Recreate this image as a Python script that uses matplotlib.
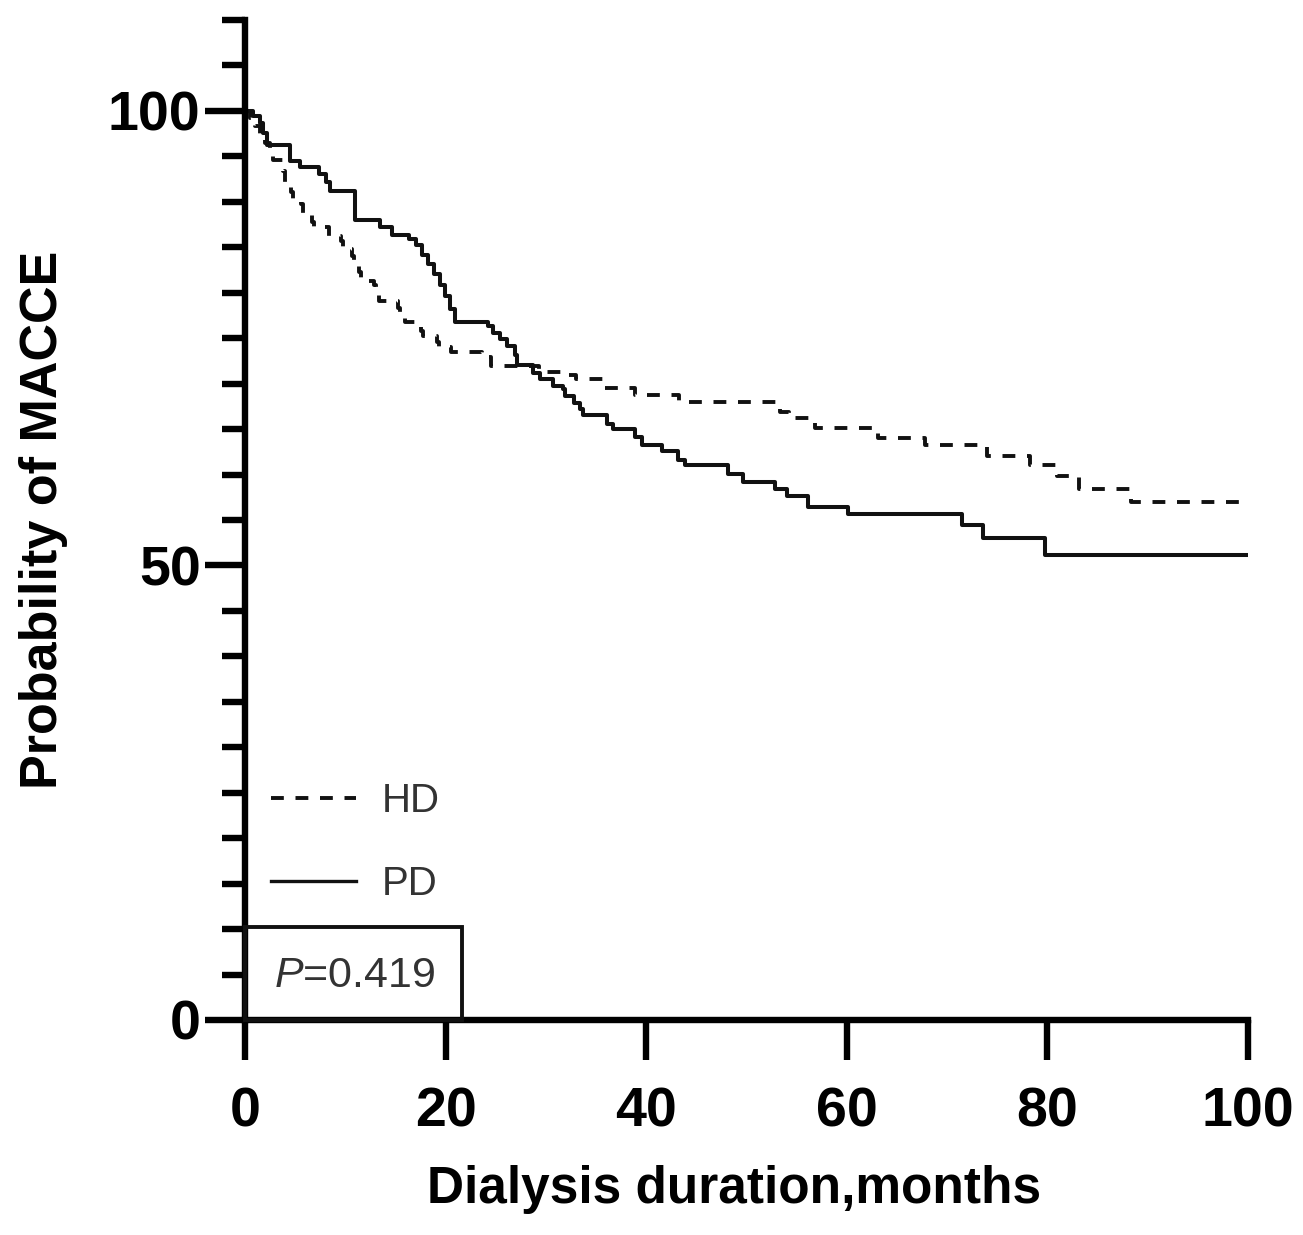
import matplotlib.pyplot as plt
from matplotlib.ticker import MultipleLocator
from matplotlib.patches import Rectangle

plt.rcParams['font.family'] = ['Liberation Sans', 'DejaVu Sans']
plt.rcParams['mathtext.fontset'] = 'custom'
plt.rcParams['mathtext.it'] = 'Liberation Sans:italic'
plt.rcParams['mathtext.rm'] = 'Liberation Sans'

# Kaplan-Meier steps (months, probability %)
hd_months = [0, 0.5, 1.0, 1.5, 2.0, 2.5, 2.8, 3.8, 4.0, 4.6, 4.8, 5.6, 5.8, 6.7, 6.9,
             8.4, 9.6, 9.8, 10.7, 10.9, 11.4, 11.6, 12.9, 13.1, 13.4, 15.3, 15.5, 16.0,
             17.5, 17.7, 19.1, 19.3, 20.5, 23.6, 24.5, 29.3, 31.5, 33.0, 35.8, 38.9, 43.3,
             53.3, 54.2, 56.8, 63.1, 67.8, 74.0, 78.3, 81.0, 83.2, 88.3, 100]
hd_prob = [100, 99.2, 98.3, 97.4, 96.5, 95.5, 94.6, 93.4, 92.0, 91.1, 90.3, 89.8, 88.7, 87.8, 87.2,
           86.2, 85.7, 84.8, 84.0, 83.4, 82.3, 81.3, 80.9, 80.2, 79.1, 78.3, 77.4, 76.8,
           75.8, 75.2, 74.6, 74.0, 73.5, 72.9, 71.9, 71.3, 71.0, 70.5, 69.5, 68.8, 68.0,
           66.9, 66.2, 65.1, 64.0, 63.2, 62.0, 61.0, 59.8, 58.4, 57.0, 57.0]

pd_months = [0, 0.8, 1.5, 1.8, 2.2, 4.5, 5.5, 7.4, 8.1, 8.5, 11.0, 13.5, 14.7,
             16.4, 17.0, 17.6, 18.2, 18.8, 19.4, 19.9, 20.4, 20.9, 24.2, 24.7, 25.4, 26.1,
             26.9, 27.1, 28.7, 29.4, 30.7, 31.7, 31.9, 32.8, 33.4, 33.7, 36.1, 36.7, 38.9,
             39.6, 41.6, 43.2, 43.9, 48.2, 49.7, 52.8, 54.0, 56.1, 60.1, 71.5, 73.6, 79.8, 100]
pd_prob = [100, 99.4, 98.7, 97.6, 96.2, 94.5, 93.8, 93.1, 92.2, 91.2, 88.0, 87.2, 86.4,
           85.9, 85.2, 84.2, 83.2, 82.1, 80.9, 79.6, 78.2, 76.8, 76.3, 75.6, 74.9, 74.1,
           73.2, 72.1, 71.2, 70.5, 69.7, 69.4, 68.6, 67.9, 67.2, 66.5, 65.6, 65.0, 64.1,
           63.2, 62.6, 61.6, 61.0, 60.1, 59.2, 58.4, 57.6, 56.4, 55.7, 54.4, 53.0, 51.2, 51.2]

group_labels = ['HD', 'PD']
p_text = r'$\it{P}$=0.419'

fig = plt.figure(figsize=(13.03, 12.35), dpi=100)
ax = fig.add_axes([245 / 1303, 215 / 1235, 1003 / 1303, 1000 / 1235])

ax.step(hd_months, hd_prob, where='post', color='#111111', lw=2.8,
        linestyle=(0, (3.3, 3.0)), label=group_labels[0])
ax.step(pd_months, pd_prob, where='post', color='#111111', lw=2.9,
        label=group_labels[1])

ax.set_xlim(0, 100)
ax.set_ylim(0, 110)
ax.set_xticks([0, 20, 40, 60, 80, 100])
ax.set_yticks([0, 50, 100])
ax.yaxis.set_minor_locator(MultipleLocator(5))

for side in ['top', 'right']:
    ax.spines[side].set_visible(False)
for side in ['left', 'bottom']:
    ax.spines[side].set_linewidth(4.6)
    ax.spines[side].set_capstyle('projecting')

ax.tick_params(axis='y', which='major', length=29, width=4.6, pad=3, labelsize=40)
ax.tick_params(axis='y', which='minor', length=16.5, width=4.6)
ax.tick_params(axis='x', which='major', length=29, width=4.6, pad=19, labelsize=40)
for lab in ax.get_xticklabels() + ax.get_yticklabels():
    lab.set_fontweight('bold')

ax.set_xlabel('Dialysis duration,months', fontsize=37, fontweight='bold', labelpad=24)
ax.xaxis.set_label_coords(0.488, -0.145)
ax.set_ylabel('Probability of MACCE', fontsize=37.5, fontweight='bold', labelpad=29)

leg = ax.legend(loc='lower left', bbox_to_anchor=(0.026, 0.117), frameon=False,
                fontsize=29, handlelength=2.1, handletextpad=0.65, labelspacing=1.12,
                borderpad=0, borderaxespad=0)
for t in leg.get_texts():
    t.set_color('#333333')
leg.get_lines()[0].set_linewidth(2.8)
leg.get_lines()[1].set_linewidth(2.4)

ax.add_patch(Rectangle((0, 0), 21.6, 10.2, fill=False, lw=2.8, edgecolor='#111111',
                       clip_on=False, zorder=3))
ax.text(10.9, 4.8, p_text, fontsize=31, color='#333333', ha='center', va='center')

fig.savefig('out.png', dpi=100)
